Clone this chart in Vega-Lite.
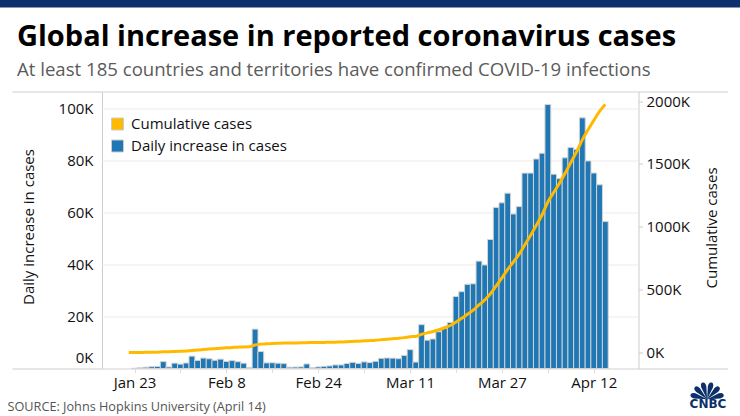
{
  "$schema": "https://vega.github.io/schema/vega-lite/v6.json",
  "width": 536.5,
  "height": 277,
  "autosize": {"type": "none"},
  "padding": {"left": 102, "top": 91.5, "right": 101.5, "bottom": 47.5},
  "background": "#ffffff",
  "config": {
    "view": {"stroke": "#cccccc", "strokeWidth": 1},
    "font": "Open Sans"
  },
  "data": {
    "values": [
      {"date": "2020-01-22", "daily": null, "cumulative": 555},
      {"date": "2020-01-23", "daily": 99, "cumulative": 654},
      {"date": "2020-01-24", "daily": 287, "cumulative": 941},
      {"date": "2020-01-25", "daily": 493, "cumulative": 1434},
      {"date": "2020-01-26", "daily": 684, "cumulative": 2118},
      {"date": "2020-01-27", "daily": 809, "cumulative": 2927},
      {"date": "2020-01-28", "daily": 2651, "cumulative": 5578},
      {"date": "2020-01-29", "daily": 588, "cumulative": 6166},
      {"date": "2020-01-30", "daily": 2068, "cumulative": 8234},
      {"date": "2020-01-31", "daily": 1693, "cumulative": 9927},
      {"date": "2020-02-01", "daily": 2111, "cumulative": 12038},
      {"date": "2020-02-02", "daily": 4749, "cumulative": 16787},
      {"date": "2020-02-03", "daily": 3094, "cumulative": 19881},
      {"date": "2020-02-04", "daily": 4011, "cumulative": 23892},
      {"date": "2020-02-05", "daily": 3743, "cumulative": 27635},
      {"date": "2020-02-06", "daily": 3159, "cumulative": 30794},
      {"date": "2020-02-07", "daily": 3597, "cumulative": 34391},
      {"date": "2020-02-08", "daily": 2729, "cumulative": 37120},
      {"date": "2020-02-09", "daily": 3030, "cumulative": 40150},
      {"date": "2020-02-10", "daily": 2612, "cumulative": 42762},
      {"date": "2020-02-11", "daily": 2040, "cumulative": 44802},
      {"date": "2020-02-12", "daily": 419, "cumulative": 45221},
      {"date": "2020-02-13", "daily": 15147, "cumulative": 60368},
      {"date": "2020-02-14", "daily": 6517, "cumulative": 66885},
      {"date": "2020-02-15", "daily": 2145, "cumulative": 69030},
      {"date": "2020-02-16", "daily": 2194, "cumulative": 71224},
      {"date": "2020-02-17", "daily": 2034, "cumulative": 73258},
      {"date": "2020-02-18", "daily": 1878, "cumulative": 75136},
      {"date": "2020-02-19", "daily": 503, "cumulative": 75639},
      {"date": "2020-02-20", "daily": 558, "cumulative": 76197},
      {"date": "2020-02-21", "daily": 622, "cumulative": 76819},
      {"date": "2020-02-22", "daily": 1753, "cumulative": 78572},
      {"date": "2020-02-23", "daily": 386, "cumulative": 78958},
      {"date": "2020-02-24", "daily": 603, "cumulative": 79561},
      {"date": "2020-02-25", "daily": 845, "cumulative": 80406},
      {"date": "2020-02-26", "daily": 982, "cumulative": 81388},
      {"date": "2020-02-27", "daily": 1358, "cumulative": 82746},
      {"date": "2020-02-28", "daily": 1366, "cumulative": 84112},
      {"date": "2020-02-29", "daily": 1899, "cumulative": 86011},
      {"date": "2020-03-01", "daily": 2358, "cumulative": 88369},
      {"date": "2020-03-02", "daily": 1937, "cumulative": 90306},
      {"date": "2020-03-03", "daily": 2534, "cumulative": 92840},
      {"date": "2020-03-04", "daily": 2280, "cumulative": 95120},
      {"date": "2020-03-05", "daily": 2766, "cumulative": 97886},
      {"date": "2020-03-06", "daily": 3915, "cumulative": 101801},
      {"date": "2020-03-07", "daily": 4046, "cumulative": 105847},
      {"date": "2020-03-08", "daily": 3974, "cumulative": 109821},
      {"date": "2020-03-09", "daily": 3769, "cumulative": 113590},
      {"date": "2020-03-10", "daily": 5030, "cumulative": 118620},
      {"date": "2020-03-11", "daily": 7255, "cumulative": 125875},
      {"date": "2020-03-12", "daily": 2477, "cumulative": 128352},
      {"date": "2020-03-13", "daily": 16853, "cumulative": 145205},
      {"date": "2020-03-14", "daily": 10896, "cumulative": 156101},
      {"date": "2020-03-15", "daily": 11353, "cumulative": 167454},
      {"date": "2020-03-16", "daily": 14120, "cumulative": 181574},
      {"date": "2020-03-17", "daily": 15528, "cumulative": 197102},
      {"date": "2020-03-18", "daily": 17719, "cumulative": 214821},
      {"date": "2020-03-19", "daily": 27679, "cumulative": 242500},
      {"date": "2020-03-20", "daily": 29535, "cumulative": 272035},
      {"date": "2020-03-21", "daily": 32361, "cumulative": 304396},
      {"date": "2020-03-22", "daily": 32557, "cumulative": 336953},
      {"date": "2020-03-23", "daily": 41282, "cumulative": 378235},
      {"date": "2020-03-24", "daily": 39810, "cumulative": 418045},
      {"date": "2020-03-25", "daily": 49608, "cumulative": 467653},
      {"date": "2020-03-26", "daily": 61938, "cumulative": 529591},
      {"date": "2020-03-27", "daily": 63700, "cumulative": 593291},
      {"date": "2020-03-28", "daily": 67415, "cumulative": 660706},
      {"date": "2020-03-29", "daily": 59411, "cumulative": 720117},
      {"date": "2020-03-30", "daily": 62248, "cumulative": 782365},
      {"date": "2020-03-31", "daily": 75122, "cumulative": 857487},
      {"date": "2020-04-01", "daily": 75118, "cumulative": 932605},
      {"date": "2020-04-02", "daily": 80552, "cumulative": 1013157},
      {"date": "2020-04-03", "daily": 82760, "cumulative": 1095917},
      {"date": "2020-04-04", "daily": 101488, "cumulative": 1197405},
      {"date": "2020-04-05", "daily": 74710, "cumulative": 1272115},
      {"date": "2020-04-06", "daily": 72986, "cumulative": 1345101},
      {"date": "2020-04-07", "daily": 80995, "cumulative": 1426096},
      {"date": "2020-04-08", "daily": 85008, "cumulative": 1511104},
      {"date": "2020-04-09", "daily": 84246, "cumulative": 1595350},
      {"date": "2020-04-10", "daily": 96369, "cumulative": 1691719},
      {"date": "2020-04-11", "daily": 79795, "cumulative": 1771514},
      {"date": "2020-04-12", "daily": 75165, "cumulative": 1846679},
      {"date": "2020-04-13", "daily": 70640, "cumulative": 1917319},
      {"date": "2020-04-14", "daily": 56500, "cumulative": 1973819}
    ]
  },
  "layer": [
    {
      "mark": {"type": "bar", "size": 5.85, "stroke": "#d4d4d4", "strokeWidth": 1},
      "encoding": {
        "x": {
          "field": "date", "type": "temporal",
          "scale": {"type": "utc", "domain": [1579323600000, 1587247200000], "nice": false},
          "axis": {
            "orient": "bottom",
            "values": [1579737600000, 1580428800000, 1581120000000, 1581811200000, 1582502400000, 1583193600000, 1583884800000, 1584576000000, 1585267200000, 1585958400000, 1586649600000],
            "labelExpr": "indexof(['Jan 23','Feb 8','Feb 24','Mar 11','Mar 27','Apr 12'], utcFormat(datum.value, '%b %-d')) >= 0 ? utcFormat(datum.value, '%b %-d') : ''",
            "domain": false, "grid": false,
            "tickSize": 4, "tickColor": "#dddddd",
            "labelPadding": 3, "labelFont": "Open Sans", "labelFontSize": 15, "labelColor": "#111111",
            "labelOverlap": false,
            "title": "SOURCE: Johns Hopkins University (April 14)",
            "titleX": -95, "titleY": 42.2, "titleAlign": "left", "titleBaseline": "alphabetic", "titleAngle": 0,
            "titleFont": "Open Sans", "titleFontSize": 12.7, "titleFontWeight": "normal", "titleColor": "#555555", "titleLimit": 1000
          }
        },
        "y": {
          "field": "daily", "type": "quantitative",
          "scale": {"domain": [0, 106500], "nice": false, "zero": true},
          "axis": {
            "orient": "left",
            "values": [0, 20000, 40000, 60000, 80000, 100000, 106500],
            "labelExpr": "datum.value > 100000 ? '' : format(datum.value / 1000, 'd') + 'K'",
            "labelOffset": {"condition": {"test": "datum.value === 0", "value": -11}, "value": 0},
            "tickSize": 90, "tickColor": "#cccccc",
            "tickOpacity": {"condition": {"test": "datum.value === 0 || datum.value > 100000", "value": 1}, "value": 0},
            "labelPadding": -81,
            "domain": false, "grid": true, "gridColor": "#ebebeb",
            "labelFont": "Open Sans", "labelFontSize": 15, "labelColor": "#111111",
            "title": "Daily increase in cases",
            "titleX": -73.2, "titleY": 135, "titleAngle": -90, "titleAlign": "center", "titleBaseline": "middle",
            "titleFont": "Open Sans", "titleFontSize": 15, "titleFontWeight": "normal", "titleColor": "#111111", "titleLimit": 1000
          }
        },
        "color": {
          "datum": "Daily increase in cases", "type": "nominal",
          "scale": {"domain": ["Cumulative cases", "Daily increase in cases"], "range": ["#FFBA00", "#1F77B4"]},
          "legend": {
            "orient": "none", "legendX": 8, "legendY": 25, "direction": "vertical", "title": null,
            "symbolType": "square", "symbolSize": 144, "symbolStrokeColor": "#cccccc", "symbolStrokeWidth": 1,
            "labelFont": "Open Sans", "labelFontSize": 15, "labelColor": "#111111", "labelOffset": 6,
            "rowPadding": 5, "padding": 0
          }
        }
      }
    },
    {
      "mark": {"type": "line", "color": "#FFBA00", "strokeWidth": 3, "interpolate": "monotone"},
      "encoding": {
        "x": {
          "field": "date", "type": "temporal",
          "axis": {
            "orient": "top", "offset": 84.5,
            "values": [1583193600000],
            "labels": false, "domain": false, "grid": false,
            "ticks": true, "tickSize": 10, "tickWidth": 2000, "tickColor": "#0b306b",
            "title": "Global increase in reported coronavirus cases",
            "titleX": -85.5, "titleY": 38, "titleAlign": "left", "titleBaseline": "alphabetic", "titleAngle": 0,
            "titleFont": "Open Sans", "titleFontSize": 29, "titleFontWeight": "bold", "titleColor": "#000000", "titleLimit": 1000
          }
        },
        "y": {
          "field": "cumulative", "type": "quantitative",
          "scale": {"domain": [-127000, 2076000], "nice": false, "zero": false},
          "axis": {
            "orient": "right",
            "values": [-127000, 0, 500000, 1000000, 1500000, 2000000, 2076000],
            "labelExpr": "datum.value < 0 || datum.value > 2050000 ? '' : format(datum.value / 1000, 'd') + 'K'",
            "tickSize": 89, "tickColor": "#cccccc",
            "tickDash": {"condition": {"test": "datum.value >= 0 && datum.value <= 2050000", "value": [4, 300]}, "value": [300, 0]},
            "labelPadding": -81.5,
            "domain": false, "grid": false,
            "labelFont": "Open Sans", "labelFontSize": 15, "labelColor": "#111111",
            "title": "Cumulative cases",
            "titleX": 73, "titleY": 136, "titleAngle": -90, "titleAlign": "center", "titleBaseline": "middle",
            "titleFont": "Open Sans", "titleFontSize": 15, "titleFontWeight": "normal", "titleColor": "#111111", "titleLimit": 1000
          }
        }
      }
    },
    {
      "mark": {"type": "point", "filled": true, "color": "#0b306b", "opacity": 0},
      "encoding": {
        "x": {
          "field": "date", "type": "temporal",
          "axis": {
            "orient": "top", "labels": false, "ticks": false, "domain": false, "grid": false,
            "title": "At least 185 countries and territories have confirmed COVID-19 infections",
            "titleX": -85.5, "titleY": -16.5, "titleAlign": "left", "titleBaseline": "alphabetic", "titleAngle": 0,
            "titleFont": "Open Sans", "titleFontSize": 18.6, "titleFontWeight": "normal", "titleColor": "#5b5b5b", "titleLimit": 1000
          }
        },
        "y": {
          "field": "cumulative", "type": "quantitative",
          "axis": {
            "orient": "right", "labels": false, "ticks": false, "domain": false, "grid": false,
            "title": "CNBC",
            "titleX": 69, "titleY": 315.5, "titleAlign": "center", "titleBaseline": "alphabetic", "titleAngle": 0,
            "titleFont": "DejaVu Sans", "titleFontSize": 12, "titleFontWeight": "bold", "titleColor": "#0b306b", "titleLimit": 1000
          }
        },
        "shape": {
          "datum": "logo", "type": "nominal",
          "scale": {"domain": ["logo"], "range": ["M0,0.55 L0.3564,-0.162 Q0.4262,-0.4228 0.2717,-0.4642 Q0.1172,-0.5056 0.0474,-0.2448 Z M0,0.55 L-0.3564,-0.162 Q-0.4262,-0.4228 -0.2717,-0.4642 Q-0.1172,-0.5056 -0.0474,-0.2448 Z M0,0.55 L0.6646,0.1116 Q0.8556,-0.0794 0.7425,-0.1925 Q0.6294,-0.3056 0.4384,-0.1146 Z M0,0.55 L-0.6646,0.1116 Q-0.8556,-0.0794 -0.7425,-0.1925 Q-0.6294,-0.3056 -0.4384,-0.1146 Z M0,0.55 L0.7948,0.5026 Q1.0556,0.4328 1.0142,0.2783 Q0.9728,0.1238 0.712,0.1936 Z M0,0.55 L-0.7948,0.5026 Q-1.0556,0.4328 -1.0142,0.2783 Q-0.9728,0.1238 -0.712,0.1936 Z"]},
          "legend": {
            "orient": "none", "legendX": 588.6, "legendY": 282.2, "title": null,
            "symbolSize": 1070, "symbolFillColor": "#0b306b", "symbolStrokeColor": "#0b306b", "symbolStrokeWidth": 0,
            "symbolOpacity": 1, "labelExpr": "''", "labelFontSize": 1, "labelOpacity": 0, "labelOffset": 0, "padding": 0
          }
        }
      }
    }
  ],
  "resolve": {"scale": {"y": "independent"}, "axis": {"x": "independent", "y": "independent"}}
}
